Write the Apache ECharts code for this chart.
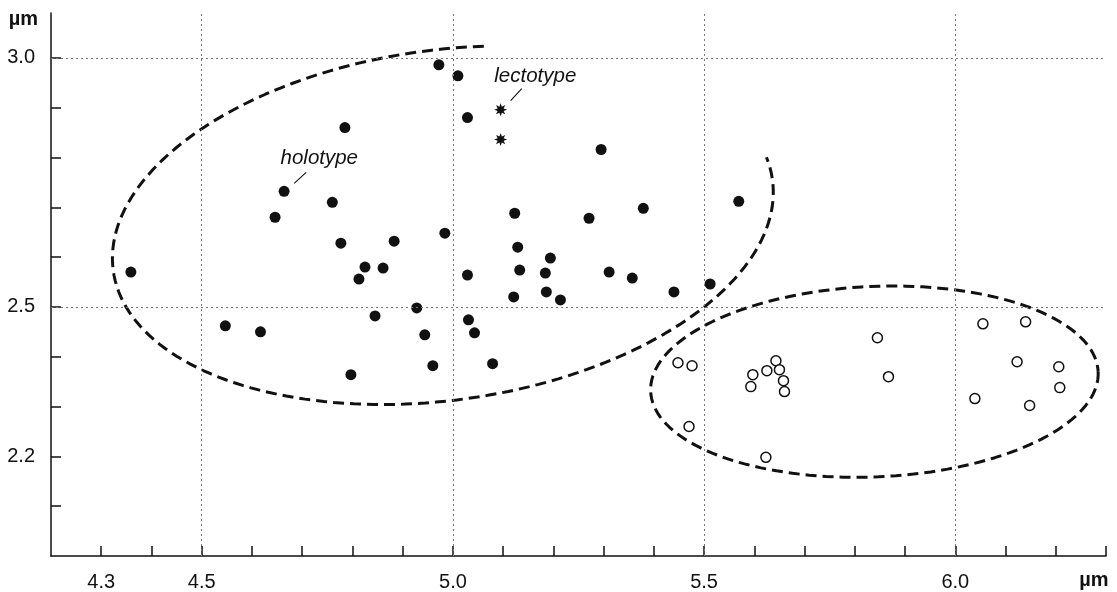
<!DOCTYPE html>
<html><head><meta charset="utf-8">
<script src="https://cdn.jsdelivr.net/npm/echarts/dist/echarts.min.js"></script>
<style>html,body{margin:0;padding:0;background:#fff}#c{width:1117px;height:592px}</style>
</head><body><div id="c"></div>
<script>
// ---- data (µm) ----
const filledPoints = [
  [4.359,2.570],[4.547,2.462],[4.617,2.450],[4.646,2.680],[4.664,2.732],[4.785,2.860],
  [4.760,2.710],[4.777,2.628],[4.797,2.364],[4.813,2.556],[4.825,2.580],[4.845,2.482],
  [4.861,2.578],[4.883,2.632],[4.928,2.498],[4.944,2.444],[4.960,2.382],[4.972,2.986],
  [4.984,2.648],[5.010,2.964],[5.029,2.564],[5.029,2.880],[5.031,2.474],[5.043,2.448],
  [5.079,2.386],[5.123,2.688],[5.129,2.620],[5.133,2.574],[5.121,2.520],[5.184,2.568],
  [5.186,2.530],[5.194,2.598],[5.214,2.514],[5.271,2.678],[5.295,2.816],[5.311,2.570],
  [5.357,2.558],[5.379,2.698],[5.440,2.530],[5.512,2.546],[5.569,2.712]
];
const starPoints = [[5.095,2.896],[5.095,2.836]];
const openPoints = [
  [5.448,2.388],[5.476,2.382],[5.470,2.260],[5.643,2.392],[5.625,2.372],[5.650,2.374],
  [5.597,2.364],[5.658,2.352],[5.593,2.340],[5.660,2.330],[5.623,2.198],[5.845,2.438],
  [5.867,2.360],[6.055,2.466],[6.140,2.470],[6.123,2.390],[6.206,2.380],[6.208,2.338],
  [6.039,2.316],[6.148,2.302]
];
// ellipses: centre, two conjugate semi-axis vectors, arc range (degrees)
const ellipseA = {c:[4.980,2.664], u:[0.656,0.0918], v:[0.0479,-0.348], from:-78.7, to:-367.5};
const ellipseB = {c:[5.839,2.350], u:[0.4454,0.0195], v:[0.0082,-0.191], from:0, to:360};
const gridX = [4.5,5.0,5.5,6.0];
const gridY = [3.0,2.5];
const xTicks = [4.3,4.4,4.5,4.6,4.7,4.8,4.9,5.0,5.1,5.2,5.3,5.4,5.5,5.6,5.7,5.8,5.9,6.0,6.1,6.2,6.3];
const yTicks = [2.1,2.2,2.3,2.4,2.5,2.6,2.7,2.8,2.9,3.0];
const xLabels = [4.3,4.5,5.0,5.5,6.0];
const yLabels = [2.2,2.5,3.0];
const notes = [
  {name:'holotype', text:[4.734,2.798], line:[[4.684,2.748],[4.708,2.770]]},
  {name:'lectotype', text:[5.164,2.962], line:[[5.115,2.914],[5.137,2.938]]}
];

function ellipseLine(e){
  const pts=[]; const n=160;
  for(let i=0;i<=n;i++){
    const t=(e.from+(e.to-e.from)*i/n)*Math.PI/180;
    pts.push([e.c[0]+e.u[0]*Math.cos(t)+e.v[0]*Math.sin(t), e.c[1]+e.u[1]*Math.cos(t)+e.v[1]*Math.sin(t)]);
  }
  return pts;
}
function starPath(){
  let p='';
  for(let i=0;i<16;i++){
    const r=i%2?0.5:1; const a=i*Math.PI/8-Math.PI/2;
    p+=(i?'L':'M')+(50+50*r*Math.cos(a)).toFixed(2)+' '+(50+50*r*Math.sin(a)).toFixed(2);
  }
  return 'path://'+p+'Z';
}
const FONT = '"Liberation Sans", Arial, Helvetica, sans-serif';
const INK = '#111';
const chart = echarts.init(document.getElementById('c'));
const dashLine = {color:INK, width:3, type:[11,6], opacity:1};
chart.setOption({
  animation:false,
  backgroundColor:'#fff',
  grid:{left:51,right:11,top:13,bottom:34},
  xAxis:{type:'value',min:4.2,max:6.3,
    name:'µm',nameLocation:'end',nameGap:-12,
    nameTextStyle:{fontFamily:FONT,fontWeight:'bold',fontSize:20,color:INK,align:'center',verticalAlign:'top',padding:[14,0,0,0]},
    axisLine:{show:true,lineStyle:{color:INK,width:1.5}},
    axisTick:{show:true,inside:true,length:10,customValues:xTicks,lineStyle:{color:INK,width:1.5}},
    axisLabel:{customValues:xLabels,margin:16,fontFamily:FONT,fontSize:20,color:INK,formatter:v=>v.toFixed(1)},
    splitLine:{show:false}},
  yAxis:{type:'value',min:2.0,max:3.09,
    name:'µm',nameLocation:'end',nameGap:-6,
    nameTextStyle:{fontFamily:FONT,fontWeight:'bold',fontSize:20,color:INK,align:'right',verticalAlign:'middle',padding:[0,13,0,0]},
    axisLine:{show:true,lineStyle:{color:INK,width:1.5}},
    axisTick:{show:true,inside:true,length:10,customValues:yTicks,lineStyle:{color:INK,width:1.5}},
    axisLabel:{customValues:yLabels,margin:16,fontFamily:FONT,fontSize:20,color:INK,formatter:v=>v.toFixed(1)},
    splitLine:{show:false}},
  series:[
    {type:'line',data:[],silent:true,
      markLine:{silent:true,symbol:['none','none'],label:{show:false},
        lineStyle:{color:'#777',width:1,type:[2,3]},
        data:gridX.map(v=>({xAxis:v})).concat(gridY.map(v=>({yAxis:v})))}},
    {type:'line',data:ellipseLine(ellipseA),showSymbol:false,symbol:'none',lineStyle:dashLine,silent:true,z:3},
    {type:'line',data:ellipseLine(ellipseB),showSymbol:false,symbol:'none',lineStyle:dashLine,silent:true,z:3},
    {type:'scatter',data:filledPoints,symbol:'circle',symbolSize:11,itemStyle:{color:INK,opacity:1},z:4},
    {type:'scatter',data:openPoints,symbol:'circle',symbolSize:10,itemStyle:{color:'#fff',borderColor:INK,borderWidth:1.5,opacity:1},z:4},
    {type:'scatter',data:starPoints,symbol:starPath(),symbolSize:13,itemStyle:{color:INK,opacity:1},z:4},
    {type:'scatter',data:notes.map(n=>({name:n.name,value:n.text})),symbol:'circle',symbolSize:1,
      itemStyle:{color:'rgba(0,0,0,0)',opacity:1},silent:true,z:5,
      label:{show:true,position:'inside',formatter:'{b}',fontFamily:FONT,fontStyle:'italic',fontSize:20.5,color:INK,opacity:1},
      markLine:{silent:true,symbol:['none','none'],label:{show:false},lineStyle:{color:INK,width:1.1,type:'solid',opacity:1},
        data:notes.map(n=>[{coord:n.line[0]},{coord:n.line[1]}])}}
  ]
});
</script></body></html>
